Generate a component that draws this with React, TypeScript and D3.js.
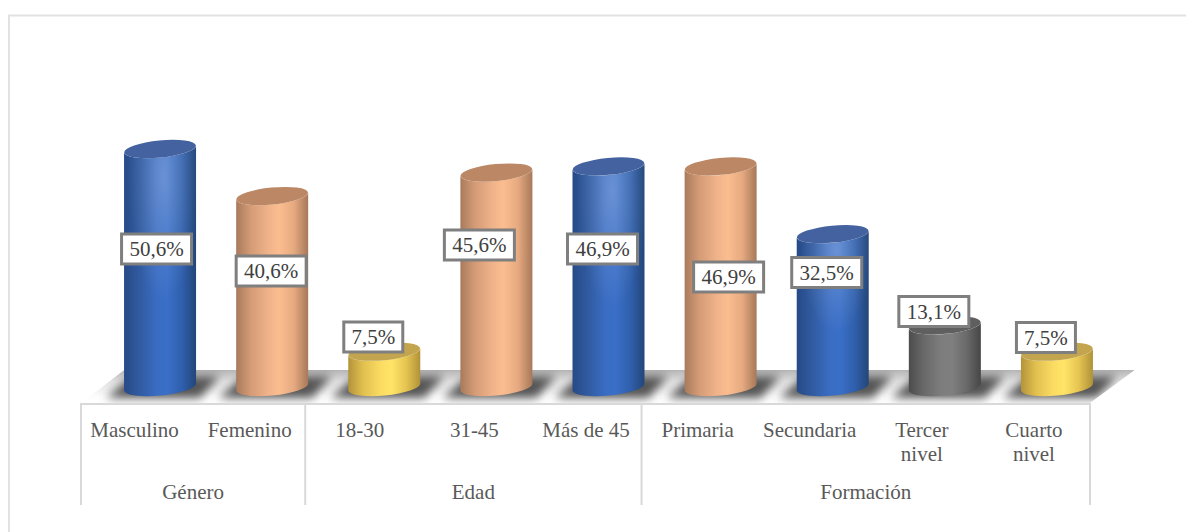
import React from "react";
import * as d3 from "d3";

const W = 1186, H = 532;

const categories = ["Masculino", "Femenino", "18-30", "31-45", "Más de 45", "Primaria", "Secundaria", "Tercer nivel", "Cuarto nivel"];
const values = [50.6, 40.6, 7.5, 45.6, 46.9, 46.9, 32.5, 13.1, 7.5];
const valueLabels = ["50,6%", "40,6%", "7,5%", "45,6%", "46,9%", "46,9%", "32,5%", "13,1%", "7,5%"];
const palette = ["blue", "peach", "yellow", "peach", "blue", "peach", "blue", "gray", "yellow"];
const groupNames = ["Género", "Edad", "Formación"];
const groupSizes = [2, 3, 4];

// layout
const labelDx = [-3.5, -1, -11, -17, -6, 8, -6, -11, -11];
const labelCy = [249, 271, 337, 245, 249, 277, 272.5, 311.5, 337.5];
const labelW = [70, 70, 59, 70, 70, 70, 70, 70, 59];
const textShift = [-2.5, 0.5, -1.5, 1, 0.5, 0, 0, 0, 0];
const tones: Record<string, { stops: string[]; top: string; sheen: boolean }> = {
  blue: { stops: ["#274a87", "#305a9e", "#3a6cc2", "#3a6fc8", "#3060ad", "#234679"], top: "#44629f", sheen: true },
  peach: { stops: ["#a87a5c", "#d49b76", "#f0b38a", "#fbbd8f", "#e6aa81", "#a67859"], top: "#bb8765", sheen: false },
  yellow: { stops: ["#b3933a", "#e0bf4f", "#fbdc62", "#ffe468", "#e6c552", "#b09238"], top: "#c3a550", sheen: false },
  gray: { stops: ["#4c4c4c", "#686868", "#7d7d7d", "#7f7f7f", "#6a6a6a", "#464646"], top: "#5f5f5f", sheen: false },
};
const stopOffsets = [0, 0.2, 0.45, 0.6, 0.8, 1];

const x = d3.scaleBand<string>().domain(categories).range([81, 1090]);
const y = d3.scaleLinear().domain([0, 50.6]).range([387, 149]);
const DEPTH = 23;
const RX = 36, RY = 8.5, TILT = -5.5;

function cylinderPath(cx: number, top: number, base: number) {
  const dy = RX * Math.sin((-TILT * Math.PI) / 180);
  const lx = cx - RX, rx = cx + RX;
  return `M${lx},${top + dy} L${lx},${base + dy} A${RX},${RY} ${TILT} 0 0 ${rx},${base - dy} L${rx},${top - dy} A${RX},${RY} ${TILT} 0 1 ${lx},${top + dy} Z`;
}

const axisColor = "#d9d9d9";
const textColor = "#595959";
const font = "'Liberation Serif','Times New Roman',serif";

export default function App() {
  const bandMid = categories.map((c) => (x(c) as number) + x.bandwidth() / 2);
  const centers = bandMid.map((m) => m + DEPTH);
  const edges: number[] = [81];
  let idx = 0;
  groupSizes.forEach((n) => {
    idx += n;
    edges.push(81 + idx * x.bandwidth());
  });
  const floor = `M${81},403 L${124},370 L${1135},370 L${1090},403 Z`;

  return (
    <svg width={W} height={H} viewBox={`0 0 ${W} ${H}`} style={{ position: "absolute", left: 0, top: 0, background: "#fff" }}>
      <defs>
        {Object.entries(tones).map(([k, t]) => (
          <linearGradient key={k} id={`g-${k}`} x1="0" x2="1" y1="0" y2="0">
            {t.stops.map((s, i) => <stop key={i} offset={stopOffsets[i]} stopColor={s} />)}
          </linearGradient>
        ))}
        <radialGradient id="sheen" cx="0.55" cy="0.12" r="0.5">
          <stop offset="0" stopColor="#fff" stopOpacity="0.24" />
          <stop offset="0.6" stopColor="#fff" stopOpacity="0.08" />
          <stop offset="1" stopColor="#fff" stopOpacity="0" />
        </radialGradient>
        <filter id="blur" x="-30%" y="-60%" width="160%" height="220%"><feGaussianBlur stdDeviation="5" /></filter>
        <clipPath id="floorClip"><path d={floor} /></clipPath>
        <linearGradient id="floorG" x1="0" x2="0" y1="0" y2="1">
          <stop offset="0" stopColor="#b5b5b5" />
          <stop offset="0.35" stopColor="#e4e4e4" />
          <stop offset="0.8" stopColor="#fdfdfd" />
          <stop offset="1" stopColor="#ffffff" />
        </linearGradient>
      </defs>

      <path d="M9,532 L9,15.5 L1186,15.5" fill="none" stroke="#e2e2e2" strokeWidth={2} />

      <g clipPath="url(#floorClip)">
        <path d={floor} fill="url(#floorG)" />
        {centers.map((cx, i) => (
          <path key={i} d={`M${cx - 54},398 L${cx - 28},376 L${cx + 60},376 L${cx + 40},398 Z`} fill="#555" filter="url(#blur)" />
        ))}
      </g>

      {categories.map((c, i) => {
        const cx = centers[i];
        const top = y(values[i]);
        const base = y(0);
        const t = tones[palette[i]];
        return (
          <g key={c}>
            <path d={cylinderPath(cx, top, base)} fill={`url(#g-${palette[i]})`} />
            {t.sheen && <path d={cylinderPath(cx, top, base)} fill="url(#sheen)" />}
            <ellipse cx={cx} cy={top} rx={RX} ry={RY} transform={`rotate(${TILT} ${cx} ${top})`} fill={t.top} />
          </g>
        );
      })}

      <line x1={80} x2={1091} y1={404} y2={404} stroke={axisColor} strokeWidth={2} />
      {edges.map((e, i) => (
        <line key={i} x1={e} x2={e} y1={404} y2={505} stroke={axisColor} strokeWidth={2} />
      ))}

      <g fontFamily={font} fontSize={21} fill={textColor} textAnchor="middle">
        {categories.map((c, i) => {
          const words = c === "Tercer nivel" || c === "Cuarto nivel" ? c.split(" ") : [c];
          const tx = bandMid[i] + textShift[i];
          return (
            <text key={c} x={tx} y={437}>
              {words.map((w, k) => <tspan key={k} x={tx} dy={k ? 24 : 0}>{w}</tspan>)}
            </text>
          );
        })}
        {groupNames.map((g, i) => (
          <text key={g} x={(edges[i] + edges[i + 1]) / 2} y={499}>{g}</text>
        ))}
      </g>

      {valueLabels.map((l, i) => {
        const cx = centers[i] + labelDx[i];
        const cy = labelCy[i];
        return (
          <g key={i}>
            <rect x={cx - labelW[i] / 2} y={cy - 15} width={labelW[i]} height={30} fill="#fff" stroke="#7f7f7f" strokeWidth={3} />
            <text x={cx} y={cy + 7} textAnchor="middle" fontFamily={font} fontSize={21} fill="#404040">{l}</text>
          </g>
        );
      })}
    </svg>
  );
}
